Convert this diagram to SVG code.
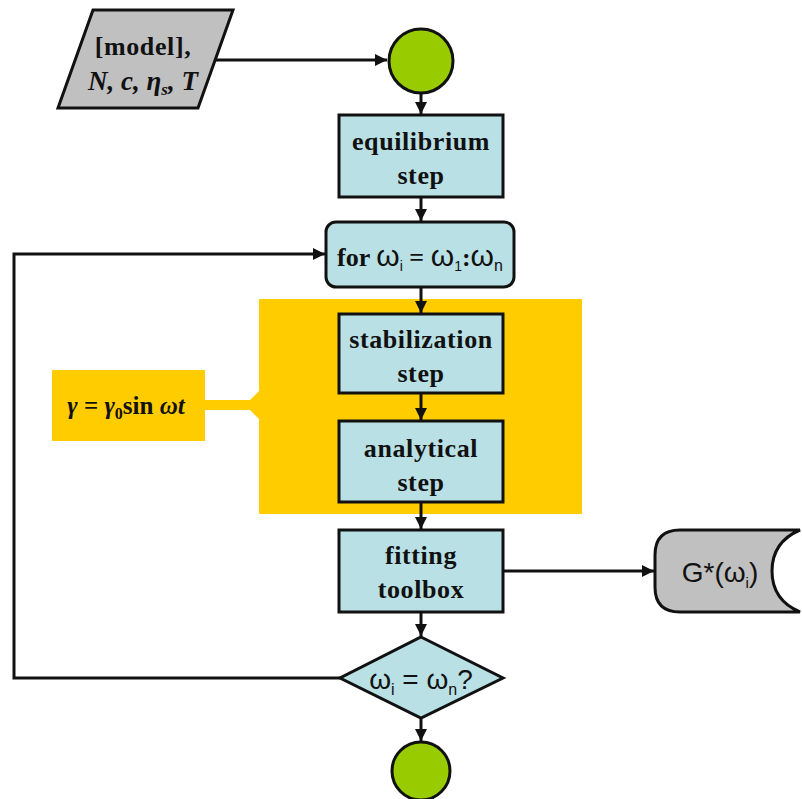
<svg xmlns="http://www.w3.org/2000/svg" width="802" height="799" viewBox="0 0 802 799">
<defs>
<style>
.box{fill:#b9e0e4;stroke:#111;stroke-width:3}
.term{fill:#99cc00;stroke:#111;stroke-width:3}
.gray{fill:#c0c0c0;stroke:#111;stroke-width:3}
.lbl{font-family:"Liberation Serif",serif;font-weight:bold;font-size:26px;letter-spacing:0.6px;fill:#111;text-anchor:middle}
.sans{font-family:"Liberation Sans",Arial,sans-serif;font-size:28px;fill:#111;text-anchor:middle}
.con{fill:none;stroke:#111;stroke-width:3}
</style>
<marker id="ah" viewBox="0 0 10 10" refX="10" refY="5" markerWidth="4" markerHeight="4" orient="auto" markerUnits="strokeWidth">
<path d="M0,0 L10,5 L0,10 z" fill="#111"/>
</marker>
</defs>
<rect width="802" height="799" fill="#fff"/>
<g id="modulation">
<polygon points="259,299 582,299 582,514 259,514 259,419 250,410 205,410 205,441 52,441 52,370 205,370 205,400 250,400 259,391" fill="#ffcc00"/>
<text x="126" y="414" font-family="Liberation Serif,serif" font-weight="bold" font-size="25" fill="#111" text-anchor="middle"><tspan font-style="italic">γ</tspan> = <tspan font-style="italic">γ</tspan><tspan font-size="16" dy="5">0</tspan><tspan dy="-5">sin </tspan><tspan font-style="italic">ωt</tspan></text>
</g>
<g id="connectors">
<line class="con" x1="215" y1="60" x2="387" y2="60" marker-end="url(#ah)"/>
<line class="con" x1="421" y1="93" x2="421" y2="114" marker-end="url(#ah)"/>
<line class="con" x1="421" y1="198" x2="421" y2="221" marker-end="url(#ah)"/>
<line class="con" x1="421" y1="288" x2="421" y2="313" marker-end="url(#ah)"/>
<line class="con" x1="421" y1="394" x2="421" y2="420" marker-end="url(#ah)"/>
<line class="con" x1="421" y1="503" x2="421" y2="529" marker-end="url(#ah)"/>
<line class="con" x1="421" y1="613" x2="421" y2="636" marker-end="url(#ah)"/>
<line class="con" x1="421" y1="719" x2="421" y2="741" marker-end="url(#ah)"/>
<line class="con" x1="503" y1="571" x2="654" y2="571" marker-end="url(#ah)"/>
<polyline class="con" points="340,678 14,678 14,254 325,254" marker-end="url(#ah)"/>
</g>
<g id="input">
<polygon class="gray" points="93,10 233,10 198,108 58,108"/>
<text class="lbl" x="143" y="55">[model],</text>
<text x="143" y="90" font-family="Liberation Serif,serif" font-style="italic" font-weight="bold" font-size="27" fill="#111" text-anchor="middle">N, c, η<tspan font-size="17" dy="5">s</tspan><tspan dy="-5">, T</tspan></text>
</g>
<g id="start">
<circle class="term" cx="421" cy="61" r="32"/>
</g>
<g id="equilibrium">
<rect class="box" x="339" y="115" width="164" height="82"/>
<text class="lbl" x="421" y="150">equilibrium</text>
<text class="lbl" x="421" y="184">step</text>
</g>
<g id="loop">
<rect class="box" x="326" y="222" width="188" height="65" rx="10"/>
<text x="420" y="266" font-family="Liberation Serif,serif" font-weight="bold" font-size="26" fill="#111" text-anchor="middle">for <tspan font-family="Liberation Sans,sans-serif" font-weight="normal" font-size="30">ω</tspan><tspan font-family="Liberation Sans,sans-serif" font-weight="normal" font-size="14" dy="5">i</tspan><tspan dy="-5"> = </tspan><tspan font-family="Liberation Sans,sans-serif" font-weight="normal" font-size="30">ω</tspan><tspan font-family="Liberation Sans,sans-serif" font-weight="normal" font-size="14" dy="5">1</tspan><tspan dy="-5">:</tspan><tspan font-family="Liberation Sans,sans-serif" font-weight="normal" font-size="30">ω</tspan><tspan font-family="Liberation Sans,sans-serif" font-weight="normal" font-size="16" dy="5">n</tspan></text>
</g>
<g id="stabilization">
<rect class="box" x="339" y="314" width="164" height="79"/>
<text class="lbl" x="421" y="348">stabilization</text>
<text class="lbl" x="421" y="382">step</text>
</g>
<g id="analytical">
<rect class="box" x="339" y="421" width="164" height="81"/>
<text class="lbl" x="421" y="457">analytical</text>
<text class="lbl" x="421" y="491">step</text>
</g>
<g id="fitting">
<rect class="box" x="339" y="530" width="164" height="82"/>
<text class="lbl" x="421" y="564">fitting</text>
<text class="lbl" x="421" y="598">toolbox</text>
</g>
<g id="decision">
<polygon class="box" points="421,637 503,678 421,718 340,678"/>
<text class="sans" x="421" y="689">ω<tspan font-size="16" dy="6">i</tspan><tspan dy="-6"> = ω</tspan><tspan font-size="16" dy="6">n</tspan><tspan dy="-6">?</tspan></text>
</g>
<g id="end">
<circle class="term" cx="421" cy="771" r="29"/>
</g>
<g id="output">
<path class="gray" d="M800,530 L680,530 Q655,530 655,555 L655,587 Q655,612 680,612 L800,612 Q772,600 772,571 Q772,542 800,530 Z"/>
<text class="sans" x="720" y="582" font-size="26">G*(ω<tspan font-size="15" dy="6">i</tspan><tspan dy="-6">)</tspan></text>
</g>
</svg>
